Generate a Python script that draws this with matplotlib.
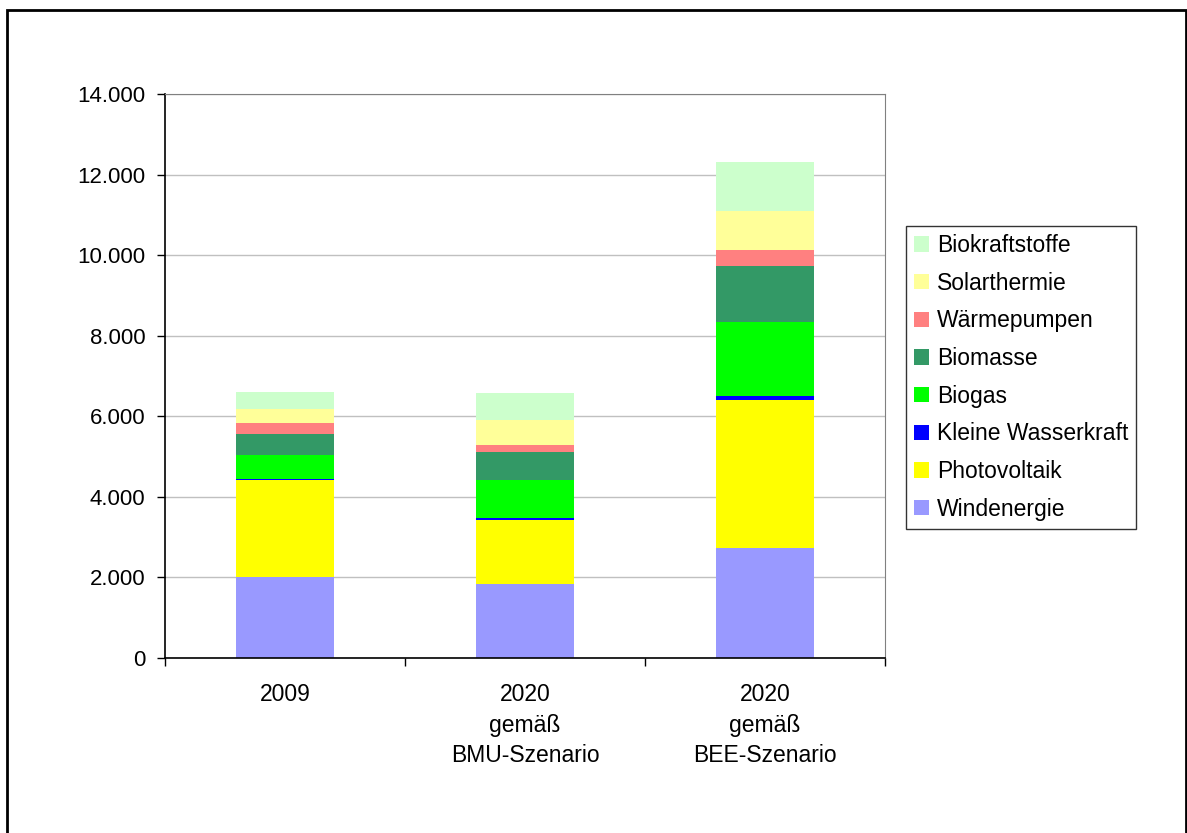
import matplotlib.pyplot as plt
from matplotlib.patches import Rectangle
from matplotlib.ticker import FuncFormatter

plt.rcParams['font.family'] = ['Liberation Sans', 'DejaVu Sans']

# Daten
kategorien = ['2009', '2020\ngemäß\nBMU-Szenario', '2020\ngemäß\nBEE-Szenario']
quellen = ['Windenergie', 'Photovoltaik', 'Kleine Wasserkraft', 'Biogas',
           'Biomasse', 'Wärmepumpen', 'Solarthermie', 'Biokraftstoffe']
windenergie = [2010, 1845, 2730]
photovoltaik = [2400, 1580, 3675]
kleine_wasserkraft = [35, 57, 107]
biogas = [595, 935, 1830]
biomasse = [520, 695, 1390]
waermepumpen = [273, 174, 398]
solarthermie = [348, 621, 968]
biokraftstoffe = [422, 670, 1216]

werte = [windenergie, photovoltaik, kleine_wasserkraft, biogas,
         biomasse, waermepumpen, solarthermie, biokraftstoffe]
farben = ['#9999FF', '#FFFF00', '#0000FF', '#00FF00',
          '#339966', '#FF8080', '#FFFF99', '#CCFFCC']

fig = plt.figure(figsize=(11.87, 8.33), dpi=100)
ax = fig.add_axes([165/1187, 1-658/833, 720/1187, 564/833])

x = range(len(kategorien))
unten = [0, 0, 0]
for name, w, f in zip(quellen, werte, farben):
    ax.bar(x, w, width=0.405, bottom=unten, color=f, label=name, zorder=2)
    unten = [u + v for u, v in zip(unten, w)]

ax.set_xlim(-0.5, 2.5)
ax.set_ylim(0, 14000)
ax.set_yticks(range(0, 14001, 2000))
ax.yaxis.set_major_formatter(FuncFormatter(lambda v, p: f'{int(v):,}'.replace(',', '.')))
ax.yaxis.grid(True, color='#c0c0c0', linewidth=1, zorder=0)

ax.set_xticks(list(x))
ax.set_xticklabels(kategorien, fontsize=16.5, linespacing=1.42)
ax.set_xticks([-0.5, 0.5, 1.5, 2.5], minor=True)
ax.tick_params(axis='x', which='major', length=0, pad=18)
ax.tick_params(axis='x', which='minor', length=6, width=1, direction='out')
ax.tick_params(axis='y', labelsize=16, length=6, width=1, direction='out', pad=8)

for s in ['top', 'right']:
    ax.spines[s].set_color('#808080')
for s in ['left', 'bottom']:
    ax.spines[s].set_color('black')
    ax.spines[s].set_linewidth(1.2)

h, l = ax.get_legend_handles_labels()
leg = fig.legend(h[::-1], l[::-1], loc='upper left',
                 bbox_to_anchor=(906/1187, 1-226/833), borderaxespad=0,
                 fontsize=16.5, frameon=True, fancybox=False, edgecolor='black',
                 handlelength=0.65, handleheight=0.65, handletextpad=0.35,
                 labelspacing=0.64, borderpad=0.35)
leg.get_frame().set_linewidth(1)

# Rahmen um das ganze Diagramm
fig.patches.append(Rectangle((7/1187, -0.02), 1179/1187, 1-10/833+0.02,
                             transform=fig.transFigure, fill=False,
                             edgecolor='black', linewidth=2))

fig.savefig('out.png', dpi=100)
